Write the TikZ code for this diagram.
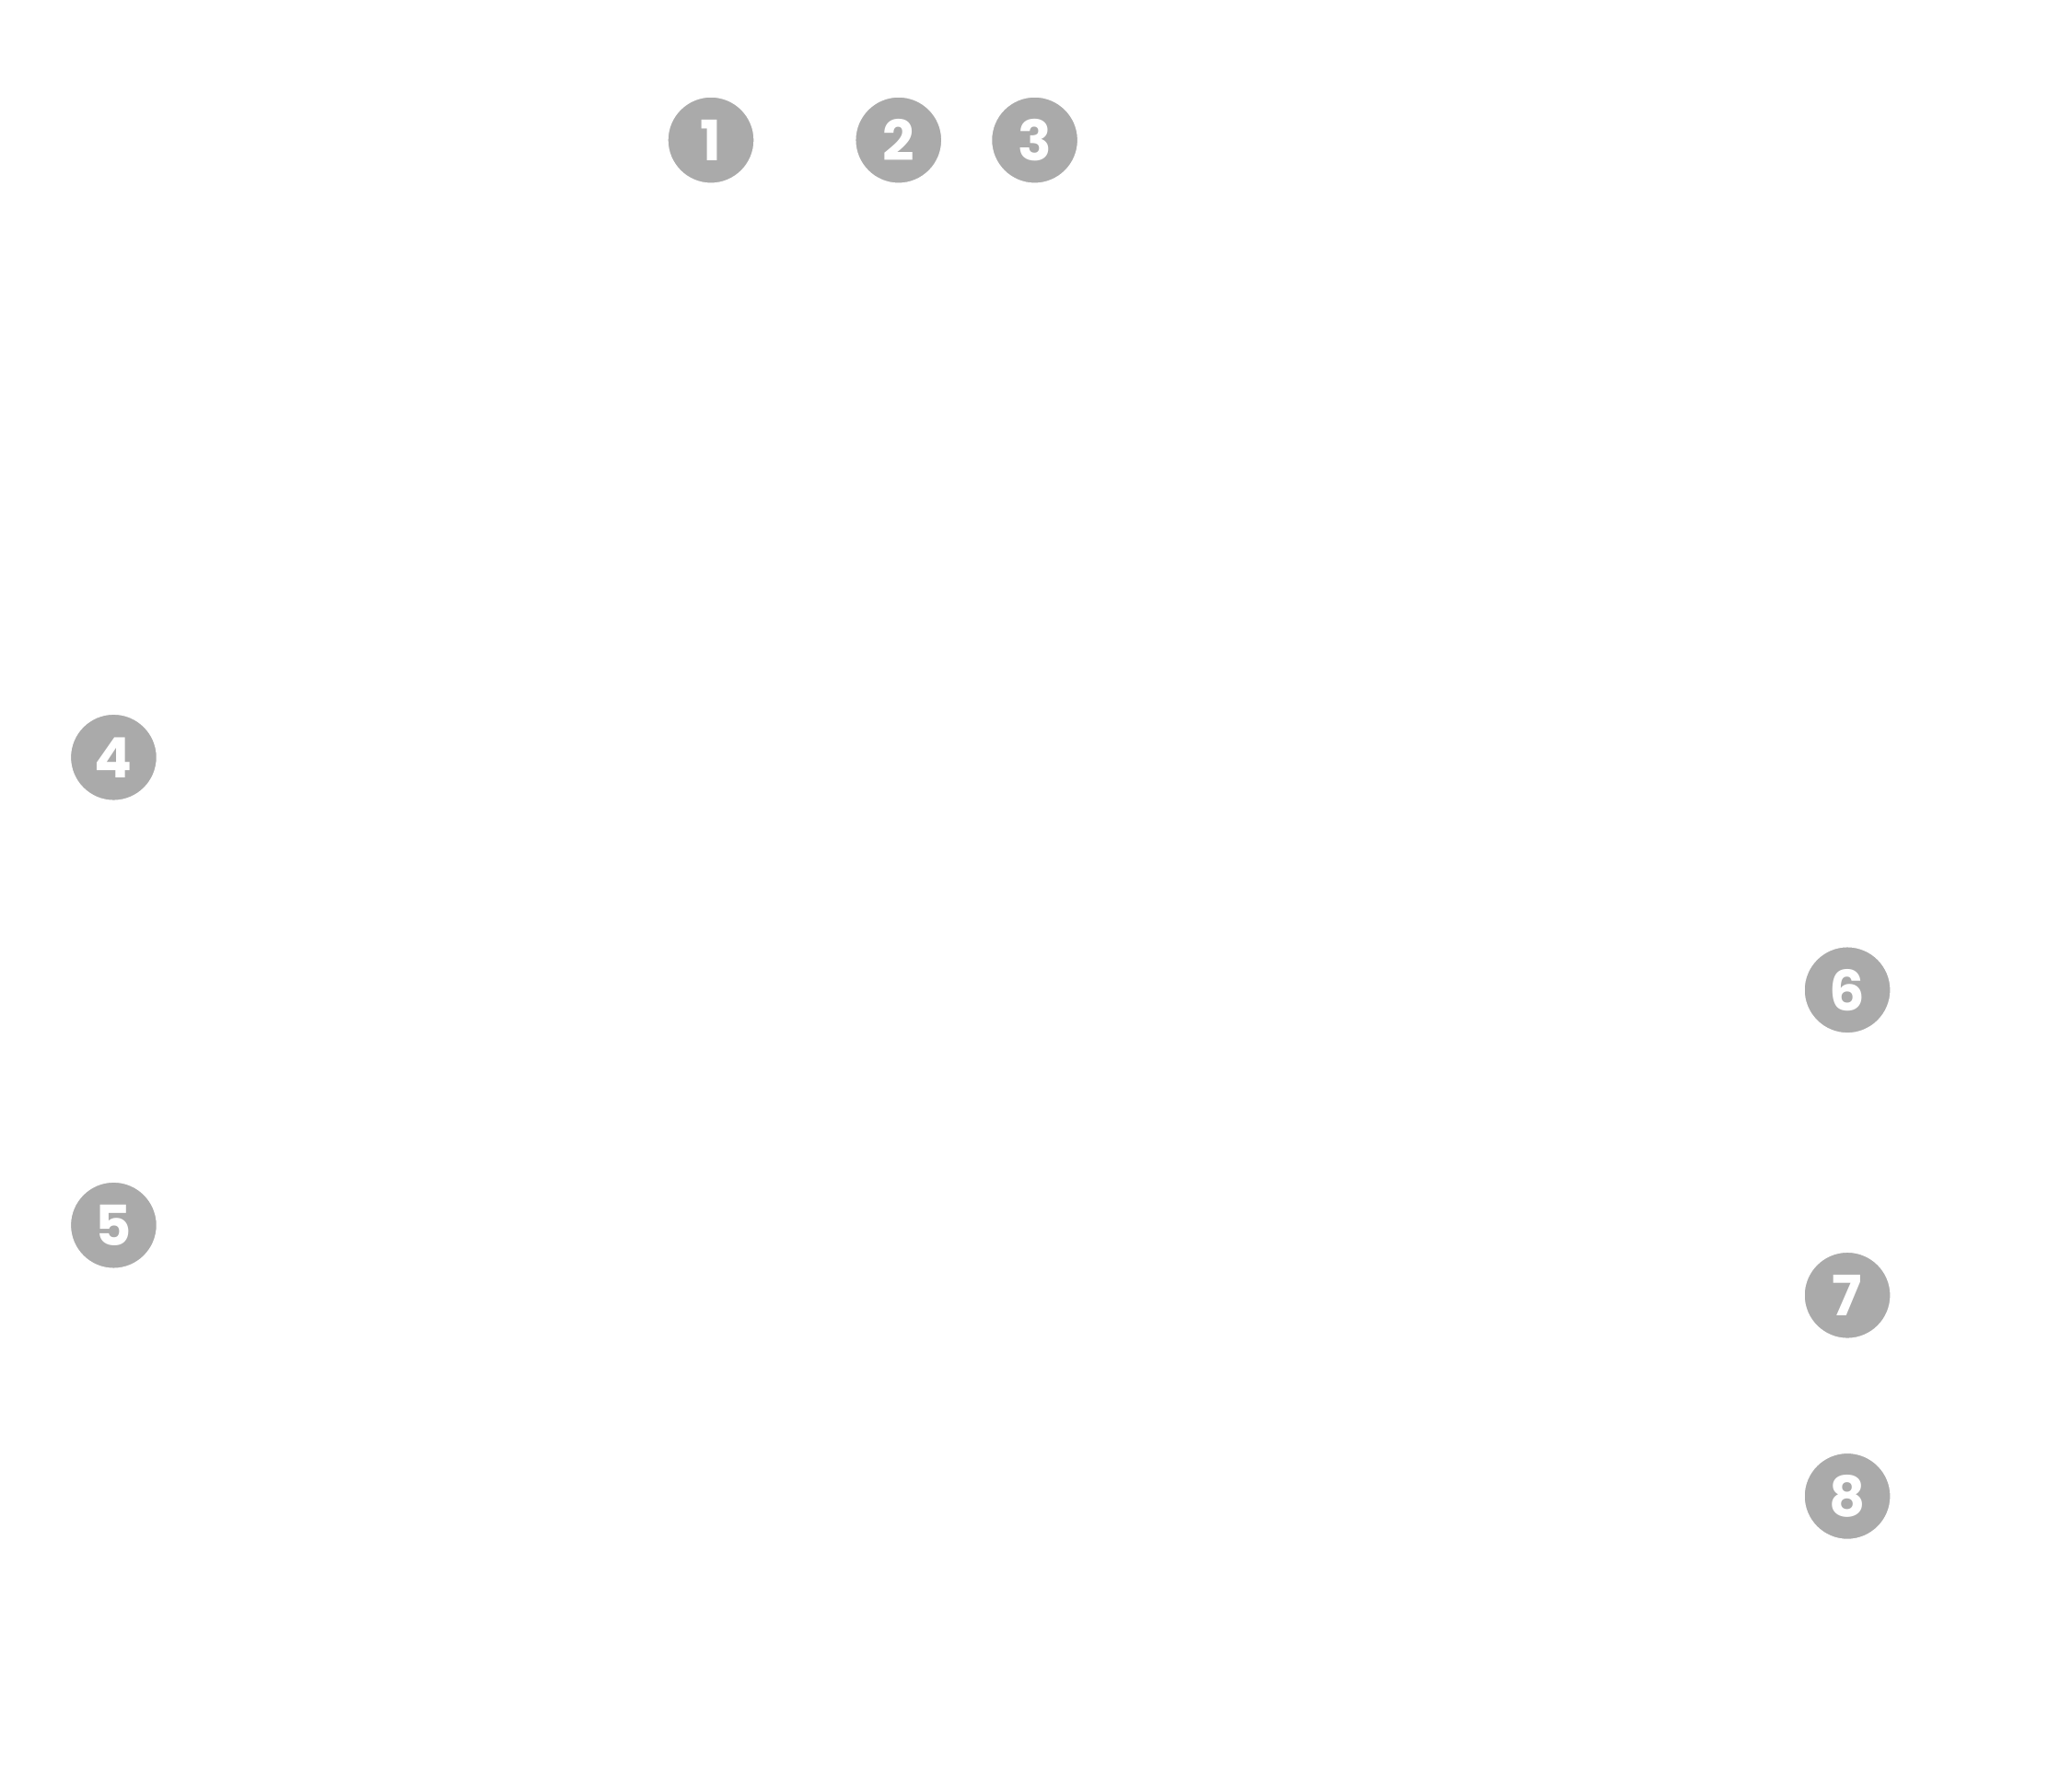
\documentclass[tikz,border=0pt]{standalone}
\usepackage{fontspec}
\setmainfont{Poppins}
\definecolor{badge}{HTML}{AAAAAA}
\begin{document}
\begin{tikzpicture}[x=0.02cm,y=-0.02cm,
  badge/.style={circle,fill=badge,draw=white,line width=0.8pt,minimum size=1.32cm,inner sep=0pt,
    text=white,font=\fontsize{24}{24}\selectfont\bfseries}]
\useasboundingbox (0,0) rectangle (1568,1342);
\node[badge] (n1) at (538,106) {1};
\node[badge] (n2) at (680,106) {2};
\node[badge] (n3) at (783,106) {3};
\node[badge] (n4) at (86,573) {4};
\node[badge] (n5) at (86,927) {5};
\node[badge] (n6) at (1398,749) {6};
\node[badge] (n7) at (1398,980) {7};
\node[badge] (n8) at (1398,1132) {8};
\end{tikzpicture}
\end{document}
